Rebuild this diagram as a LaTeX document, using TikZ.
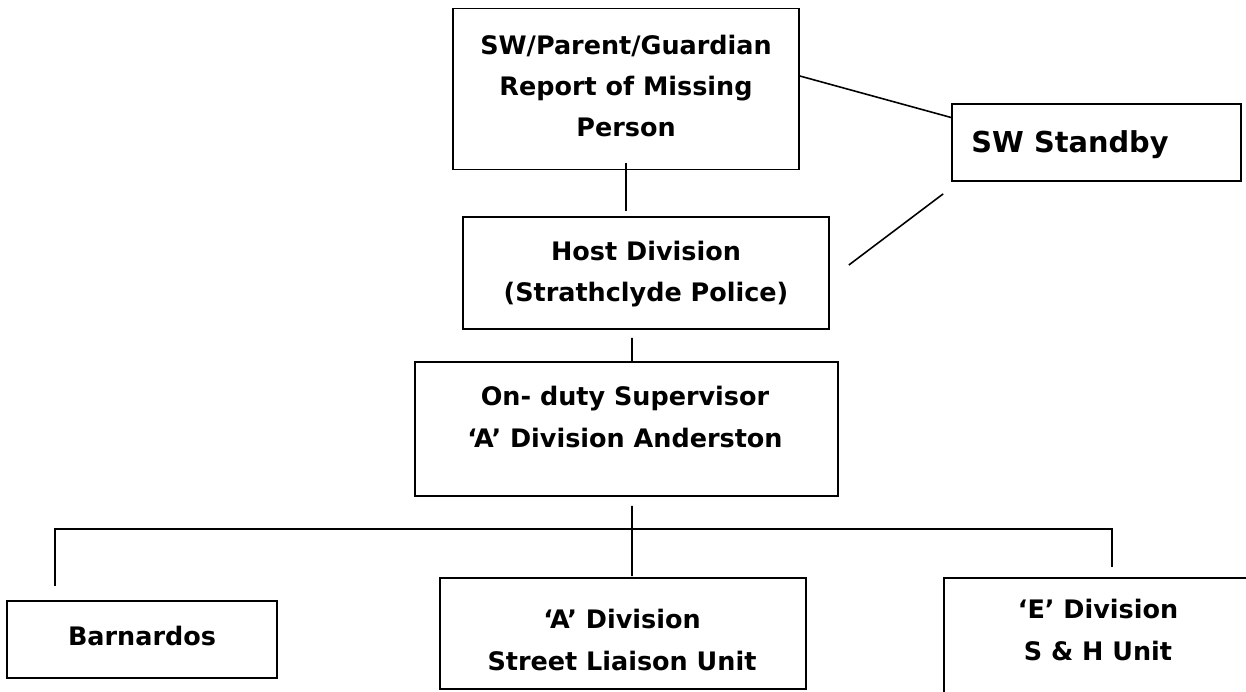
\documentclass[tikz,border=0pt]{standalone}
\usepackage{fontspec}
\setmainfont{DejaVu Sans}
\usetikzlibrary{calc}

\begin{document}
\begin{tikzpicture}[x=0.02cm, y=-0.02cm,
    box/.style={draw, line width=1pt, rectangle, inner sep=0pt},
    txt/.style={align=center, font=\bfseries\fontsize{14.5}{23.5}\selectfont, inner sep=0pt},
    link/.style={line width=0.9pt}]
    \useasboundingbox (0, 0) rectangle (1246, 691);
    \clip (0, 0) rectangle (1246, 691);
    % boxes
    \node[box, minimum width=6.92cm, minimum height=3.22cm] (report) at (626, 89) {};
    \node[box, minimum width=5.78cm, minimum height=1.54cm] (standby) at (1096.5, 142.5) {};
    \node[box, minimum width=7.32cm, minimum height=2.24cm] (host) at (646, 273) {};
    \node[box, minimum width=8.46cm, minimum height=2.68cm] (onduty) at (626.5, 429) {};
    \node[box, minimum width=5.40cm, minimum height=1.54cm] (barn) at (142, 639.5) {};
    \node[box, minimum width=7.32cm, minimum height=2.22cm] (adiv) at (623, 633.5) {};
    \node[box, minimum width=6.16cm, minimum height=2.44cm] (ediv) at (1098, 639) {};
    % texts
    \node[txt] (reporttxt) at (626, 86) {SW/Parent/Guardian\\Report of Missing\\Person};
    \node[txt, font=\bfseries\fontsize{16.4}{24}\selectfont] (standbytxt) at (1070, 145) {SW Standby};
    \node[txt] (hosttxt) at (646, 274) {Host Division\\(Strathclyde Police)};
    \node[txt] (ondutytxt) at (625, 417) {On- duty Supervisor\\`A' Division Anderston};
    \node[txt] (barntxt) at (142, 636) {Barnardos};
    \node[txt] (adivtxt) at (622, 640) {`A' Division\\Street Liaison Unit};
    \node[txt] (edivtxt) at (1098, 630) {`E' Division\\S \& H Unit};
    % links
    \draw[link] ($(report.south)+(0,-7)$) -- ($(report.south |- host.north)+(0,-5)$);
    \draw[link] ($(report.east)+(0,-13)$) -- ($(standby.west)+(0,-25)$);
    \draw[link] ($(host.east)+(19,-8)$) -- ($(standby.south west)+(-8,12)$);
    \draw[link] ($(host.south)+(-14,8)$) -- ($(onduty.north)+(5.5,0)$);
    \coordinate (busL) at (55, 529);
    \coordinate (busR) at (1112, 529);
    \draw[link] ($(onduty.south)+(5.5,9)$) -- ($(adiv.north)+(9,-1)$);
    \draw[link] ($(busL |- barn.north)+(0,-14)$) -- (busL) -- (busR) -- ($(busR |- ediv.north)+(0,-10)$);
\end{tikzpicture}
\end{document}
